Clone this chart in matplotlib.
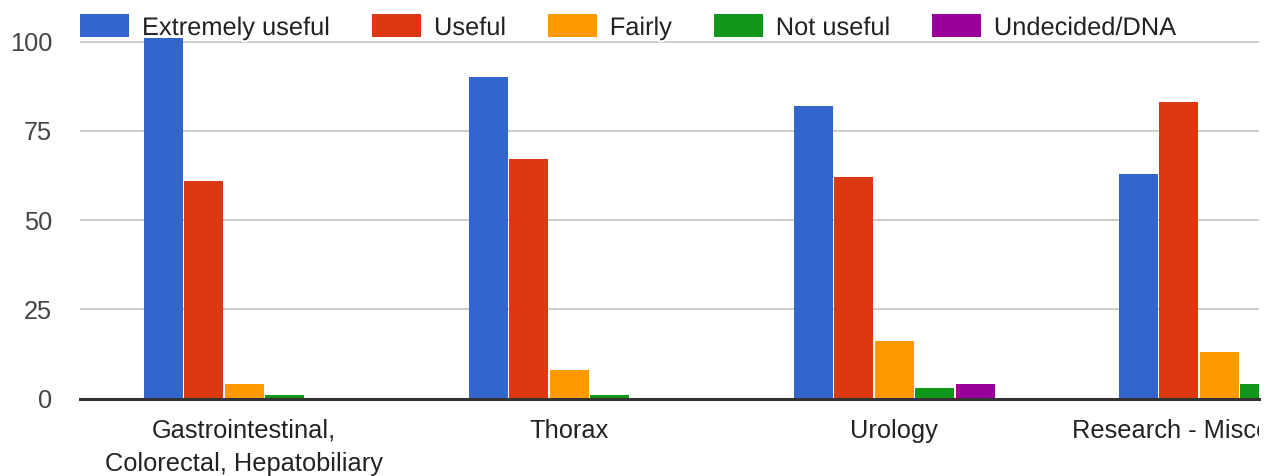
import matplotlib
matplotlib.use("Agg")
import matplotlib.pyplot as plt
import matplotlib.patheffects as pe
from matplotlib.patches import Rectangle
from matplotlib.transforms import Bbox, TransformedBbox
import numpy as np

categories = ["Gastrointestinal,\nColorectal, Hepatobiliary", "Thorax", "Urology",
              "Research - Miscellaneous"]
series_names = ["Extremely useful", "Useful", "Fairly", "Not useful", "Undecided/DNA"]
extremely_useful = [101, 90, 82, 63]
useful = [61, 67, 62, 83]
fairly = [4, 8, 16, 13]
not_useful = [1, 1, 3, 4]
undecided = [0, 0, 4, 0]
series_values = [extremely_useful, useful, fairly, not_useful, undecided]
colors = ["#3366cc", "#dc3912", "#ff9900", "#109618", "#990099"]
yticks = [0, 25, 50, 75, 100]

W, H = 1275, 476
fig = plt.figure(figsize=(W / 100, H / 100), dpi=100)
plt.rcParams['font.family'] = ['Liberation Sans', 'DejaVu Sans']
FS = 18.3

left_px, right_px, top_px, zero_px = 80, 1259, 30, 398.5
ax = fig.add_axes([left_px / W, (H - zero_px) / H, (right_px - left_px) / W, (zero_px - top_px) / H])

group_px = 325.0
xl = -0.5 - 1.5 / group_px
ax.set_xlim(xl, xl + (right_px - left_px) / group_px)
px_per_unit = (zero_px - 41.7) / 100
ax.set_ylim(0, (zero_px - top_px) / px_per_unit)

x = np.arange(len(categories))
pitch = 40.5 / group_px
bw = 39.0 / group_px
for i, (vals, c) in enumerate(zip(series_values, colors)):
    ax.bar(x + (i - 2) * pitch, vals, width=bw, color=c, zorder=3)

for s in ax.spines.values():
    s.set_visible(False)
ax.set_yticks(yticks)
ax.set_yticklabels([str(v) for v in yticks])
ax.yaxis.grid(True, color="#cccccc", linewidth=1.4, zorder=0)
ax.axhline(0, color="#333333", linewidth=2.2, zorder=4, clip_on=False)
ax.tick_params(axis="y", length=0, pad=20, labelsize=FS, labelcolor="#444444")
ax.tick_params(axis="x", length=0, pad=14.5, labelsize=FS, labelcolor="#222222")
ax.set_xticks(x)
ax.set_xticklabels(categories, linespacing=1.5)
clipbox = TransformedBbox(Bbox([[0, 0], [right_px / W, 1]]), fig.transFigure)
for t in ax.get_xticklabels():
    t.set_clip_box(clipbox)
    t.set_clip_on(True)

# legend drawn along the top
fig.canvas.draw()
renderer = fig.canvas.get_renderer()
cur = 80.0
box_w, box_h = 49, 23
box_top = 14
for name, c in zip(series_names, colors):
    fig.patches.append(Rectangle((cur / W, (H - box_top - box_h) / H), box_w / W, box_h / H,
                                 transform=fig.transFigure, facecolor=c, edgecolor="none", zorder=5))
    tx = cur + box_w + 13
    t = fig.text(tx / W, (H - 35) / H, name, fontsize=FS, color="#222222", va="baseline", ha="left",
                 zorder=6, path_effects=[pe.withStroke(linewidth=3, foreground="white")])
    wpx = t.get_window_extent(renderer).width
    cur = tx + wpx + 41.5

fig.savefig("out.png", dpi=100)
